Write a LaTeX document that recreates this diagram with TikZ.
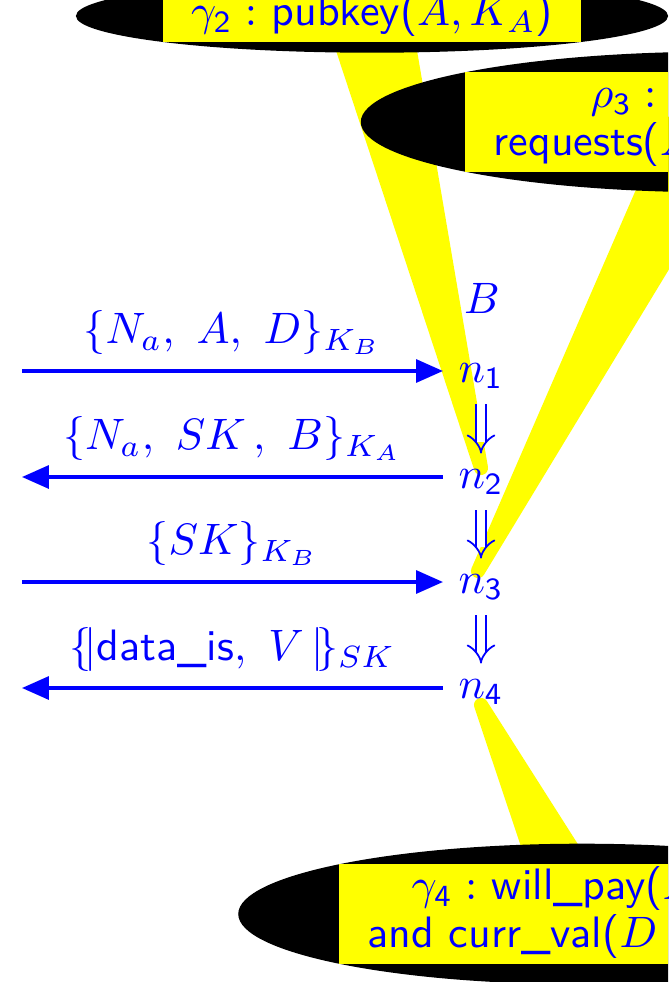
\documentclass[tikz,border=0pt]{standalone}
\usetikzlibrary{shapes.geometric,arrows.meta,calc,backgrounds}
\renewcommand{\familydefault}{\sfdefault}
\setlength{\fboxsep}{0.5pt}
\renewcommand{\arraystretch}{0.9}
\definecolor{claimyellow}{RGB}{255,255,0}
\definecolor{msgblue}{RGB}{0,0,255}

\begin{document}
\begin{tikzpicture}[x=0.2273pt, y=-0.2273pt,
  % Claim ellipses
  guar/.style={ellipse, fill=black, inner sep=0pt, text=msgblue},
  % Strand nodes and messages
  strandnode/.style={text=msgblue, anchor=base},
  msg/.style={draw=msgblue, line width=0.75pt, -{Triangle[length=6.1pt,width=5.2pt]}},
  lbl/.style={text=msgblue, midway, above},
  succ/.style={draw=msgblue, double, double distance=1.9pt, -{Implies}},
  % Yellow beams
  beam/.style={fill=claimyellow, draw=claimyellow, line width=3.2pt, line join=round},
]
\useasboundingbox (0,0) rectangle (668,982);
\clip (0,0) rectangle (668,982);

% Horizontal positions
\def\strandx{481}
\def\peerx{22}

% --- Claims ---
\node[guar] (g2) at (372,16)
  {\colorbox{claimyellow}{\begin{tabular}{c}$\gamma_\mathsf{2}:$ pubkey($A, K_A$)\end{tabular}}};
\node[guar] (r3) at (717,122)
  {\colorbox{claimyellow}{\begin{tabular}{p{101.5pt}}\hspace*{22pt}$\rho_\mathsf{3}:$\\
   requests($A$\end{tabular}}};
\node[guar] (g4) at (582,914)
  {\colorbox{claimyellow}{\begin{tabular}{p{97.5pt}}\hspace*{10pt}$\gamma_\mathsf{4}:$ will\_pay($A$\\
   and curr\_val($D$\end{tabular}}};

% --- Strand of B ---
\node[strandnode] (b) at (482,313) {$B$};
\node[strandnode] (n1) at (\strandx,382) {$n_\mathsf{1}$};
\node[strandnode] (n2) at (\strandx,488) {$n_\mathsf{2}$};
\node[strandnode] (n3) at (\strandx,593) {$n_\mathsf{3}$};
\node[strandnode] (n4) at (\strandx,698) {$n_\mathsf{4}$};
\draw[succ] (n1) -- (n2);
\draw[succ] (n2) -- (n3);
\draw[succ] (n3) -- (n4);

% --- Messages ---
\coordinate (s1) at (\peerx,371);
\coordinate (s2) at (\peerx,477);
\coordinate (s3) at (\peerx,582);
\coordinate (s4) at (\peerx,688);
\draw[msg] (s1) -- (s1 -| n1.west) node[lbl] {$\{N_a,\ A,\ D\}_{K_B}$};
\draw[msg] (s2 -| n2.west) -- (s2) node[lbl] {$\{N_a,\ SK\,,\ B\}_{K_A}$};
\draw[msg] (s3) -- (s3 -| n3.west) node[lbl] {$\{SK\}_{K_B}$};
\draw[msg] (s4 -| n4.west) -- (s4) node[lbl] {$\{\!|\mbox{data\_is},\ V\,|\!\}_{SK}$};

% --- Beams from claims to nodes ---
\begin{scope}[on background layer]
  \filldraw[beam] (g2.center) ++(-40,0) -- ++(72,0) -- ($(n2.base)+(0,-20)$) -- cycle;
  \filldraw[beam] (r3.center) ++(-44,0) -- ++(77,0) -- ($(n3.base)+(-3,-22)$) -- cycle;
  \filldraw[beam] (g4.center) ++(-31,0) -- ++(63,0) -- ($(n4.base)+(0,7)$) -- cycle;
\end{scope}
\end{tikzpicture}
\end{document}
